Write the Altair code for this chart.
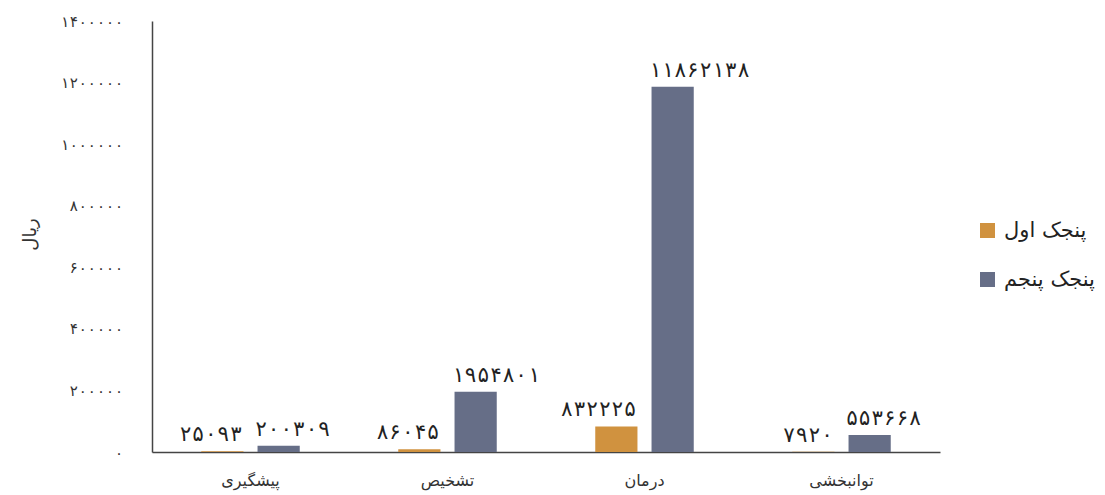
import altair as alt
import pandas as pd

categories = ["پیشگیری", "تشخیص", "درمان", "توانبخشی"]
series = ["پنجک اول", "پنجک پنجم"]
first_values = [25093, 86045, 832225, 7920]
fifth_values = [200309, 1954801, 11862138, 553668]
y_ticks = [0, 2000000, 4000000, 6000000, 8000000, 10000000, 12000000, 14000000]
colors = ["#D0923F", "#666E87"]

FONT = "DejaVu Sans"
NUMFONT = "DejaVu Sans Mono, DejaVu Sans"
tr = str.maketrans("0123456789", "۰۱۲۳۴۵۶۷۸۹")

rows = []
for c, a, b in zip(categories, first_values, fifth_values):
    rows.append({"cat": c, "series": series[0], "value": a, "label": str(a).translate(tr)})
    rows.append({"cat": c, "series": series[1], "value": b, "label": str(b).translate(tr)})
df = pd.DataFrame(rows)

# Persian-digit label expression for the y axis (axis shows value / 10)
expr = "format(datum.value / 10, 'd')"
for d, p in zip("0123456789", "۰۱۲۳۴۵۶۷۸۹"):
    expr = f"join(split({expr}, '{d}'), '{p}')"

x_enc = alt.X("cat:N", sort=categories, title=None,
              scale=alt.Scale(paddingInner=0.5, paddingOuter=0.25),
              axis=alt.Axis(labelAngle=0, labelFontSize=16, labelFont=FONT,
                            labelColor="#333333", ticks=False, labelPadding=20,
                            domainColor="#444444", domainWidth=1.5))
xoff = alt.XOffset("series:N", sort=series,
                   scale=alt.Scale(paddingInner=0.25, paddingOuter=0))
y_enc = alt.Y("value:Q", title="ریال",
              scale=alt.Scale(domain=[0, 14000000], nice=False),
              axis=alt.Axis(values=y_ticks, labelExpr=expr, grid=False, ticks=False,
                            labelFontSize=15, labelFont=NUMFONT, labelColor="#333333",
                            labelPadding=29, domainColor="#444444", domainWidth=1.5,
                            titleFont=FONT, titleFontSize=18, titleFontWeight="normal",
                            titleColor="#333333", titleX=-122, titleY=213,
                            titleAngle=270, titleAlign="center",
                            titleBaseline="middle"))

base = alt.Chart(df)

bars = base.mark_bar().encode(
    x=x_enc,
    xOffset=xoff,
    y=y_enc,
    color=alt.Color("series:N", sort=series,
                    scale=alt.Scale(domain=series, range=colors),
                    legend=alt.Legend(title=None, orient="none", legendX=825, legendY=199,
                                      symbolType="square", symbolSize=225,
                                      symbolStrokeWidth=0, labelFontSize=21,
                                      labelFont=FONT, labelColor="#222222",
                                      rowPadding=27, padding=0, labelOffset=6)),
)

text_first = base.transform_filter(alt.datum.series == series[0]).mark_text(
    align="right", baseline="bottom", dx=20, dy=-6, fontSize=21, font=NUMFONT, color="#222222"
).encode(x=alt.X("cat:N", sort=categories), xOffset=xoff, y="value:Q", text="label:N")

text_fifth = base.transform_filter(alt.datum.series == series[1]).mark_text(
    align="left", baseline="bottom", dx=-24, dy=-6, fontSize=21, font=NUMFONT, color="#222222"
).encode(x=alt.X("cat:N", sort=categories), xOffset=xoff, y="value:Q", text="label:N")

chart = alt.layer(bars, text_first, text_fifth).properties(
    width=788, height=431,
    autosize=alt.AutoSizeParams(type="none"),
    padding={"left": 152, "top": 21, "right": 165, "bottom": 43},
    background="white",
).configure_view(stroke=None)

chart.save("out.html", embed_options={"renderer": "svg", "actions": False})
